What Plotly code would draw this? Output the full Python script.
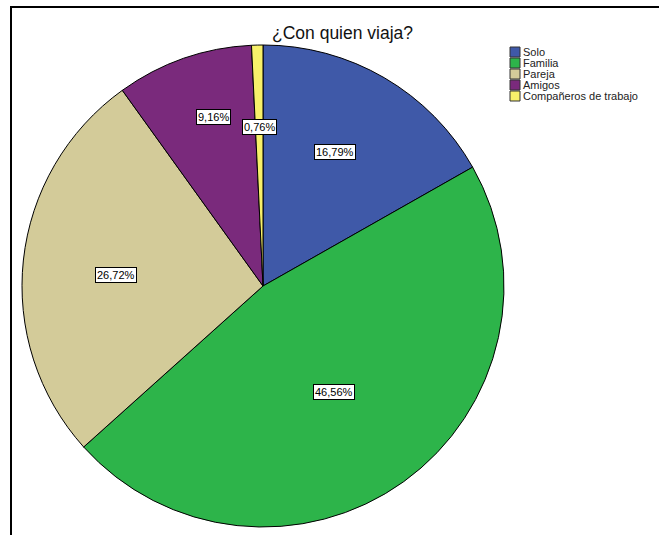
import math
import plotly.graph_objects as go

categories = ["Solo", "Familia", "Pareja", "Amigos", "Compañeros de trabajo"]
percentages = [16.79, 46.56, 26.72, 9.16, 0.76]
title_text = "¿Con quien viaja?"

colors = ["#3f59a8", "#2db44a", "#d3cb99", "#7a2a7c", "#f7f06a"]
label_radius = [0.63, 0.53, 0.61, 0.73, 0.66]
label_angle_shift = [-2, 2, -2, 3, 0]

W, H = 659, 535
# pie domain in pixels
px0, px1 = 22, 504
py0, py1 = 45, 527
cx, cy = (px0 + px1) / 2, (py0 + py1) / 2
R = (px1 - px0) / 2


def px(x):
    return x / W


def py(y):
    return 1 - y / H


fig = go.Figure()
fig.add_trace(go.Pie(
    labels=categories,
    values=percentages,
    sort=False,
    direction="clockwise",
    rotation=0,
    marker=dict(colors=colors, line=dict(color="#000000", width=1)),
    textinfo="none",
    hoverinfo="skip",
    showlegend=False,
    domain=dict(x=[px(px0), px(px1)], y=[py(py1), py(py0)]),
))

annotations = []
shapes = []

# slice labels computed from data
total = sum(percentages)
cum = 0.0
for v, f, sh in zip(percentages, label_radius, label_angle_shift):
    mid = (cum + v / 2) / total * 2 * math.pi + math.radians(sh)
    cum += v
    x = cx + f * R * math.sin(mid)
    y = cy - f * R * math.cos(mid)
    annotations.append(dict(
        x=px(x), y=py(y), xref="paper", yref="paper",
        xanchor="center", yanchor="middle",
        text=f"{v:.2f}%".replace(".", ","), showarrow=False,
        font=dict(family="Liberation Sans, Arial", size=11, color="#000"),
        bgcolor="#ffffff", bordercolor="#000000", borderwidth=1, borderpad=1,
    ))

# title
annotations.append(dict(
    x=px(342), y=py(33), xref="paper", yref="paper", text=title_text,
    xanchor="center", yanchor="middle",
    showarrow=False, font=dict(family="Liberation Sans, Arial", size=17.5, color="#111"),
))

# custom legend
lx, ly, step, sw = 510, 52, 11, 10
for i, (name, c) in enumerate(zip(categories, colors)):
    yc = ly + i * step
    shapes.append(dict(
        type="rect", xref="paper", yref="paper",
        x0=px(lx), x1=px(lx + sw), y0=py(yc + sw / 2), y1=py(yc - sw / 2),
        fillcolor=c, line=dict(color="#333", width=1),
    ))
    annotations.append(dict(
        x=px(lx + sw + 1), y=py(yc), xref="paper", yref="paper", text=name,
        xanchor="left", yanchor="middle", showarrow=False,
        font=dict(family="Liberation Sans, Arial", size=11, color="#222"),
    ))

# frame
shapes.append(dict(
    type="rect", xref="paper", yref="paper",
    x0=px(11), x1=px(720), y0=py(600), y1=py(7),
    line=dict(color="#000", width=2), fillcolor="rgba(0,0,0,0)",
))

fig.update_layout(
    width=W, height=H,
    margin=dict(l=0, r=0, t=0, b=0),
    paper_bgcolor="#ffffff", plot_bgcolor="#ffffff",
    annotations=annotations, shapes=shapes,
)

fig.write_html("out.html", config={"displayModeBar": False},
               post_script="document.body.style.margin='0px';")
